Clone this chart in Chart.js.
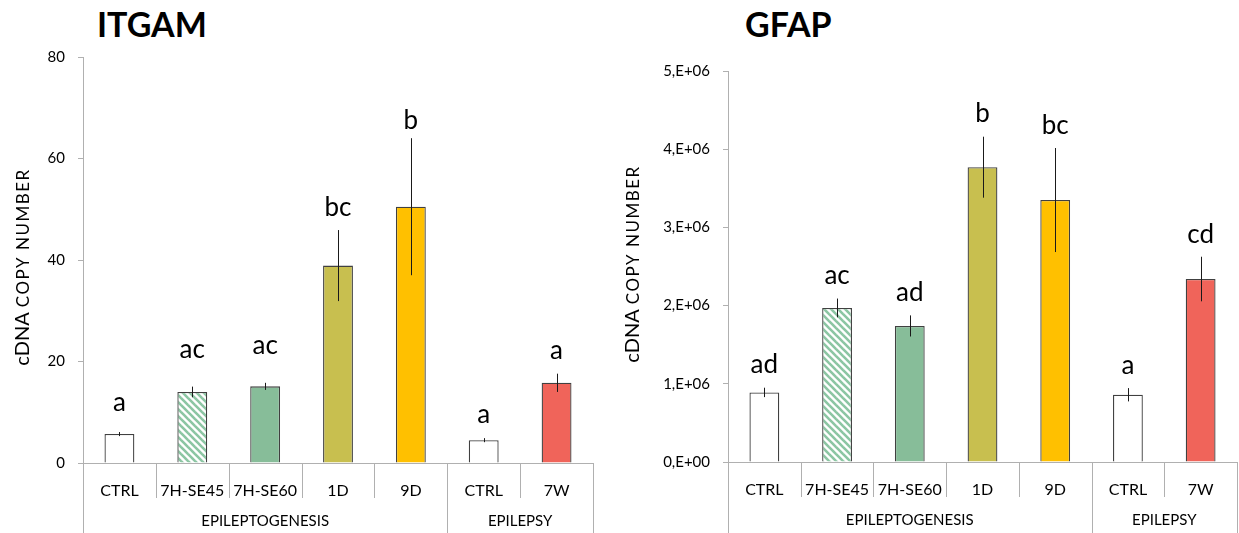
<!DOCTYPE html>
<html>
<head>
<meta charset="utf-8">
<script src="https://cdn.jsdelivr.net/npm/chart.js@4.4.1/dist/chart.umd.min.js"></script>
<style>
body { margin: 0; background: #fff; width: 1239px; height: 533px; overflow: hidden; position: relative; }
.titulo { position: absolute; top: 7px; font: bold 34px Lato, sans-serif; line-height: 34px; color: #000; }
.caja { position: absolute; top: 0; height: 533px; }
</style>
</head>
<body>
<div class="titulo" style="left:97px">ITGAM</div>
<div class="titulo" style="left:745px">GFAP</div>
<div class="caja" style="left:0; width:610px"><canvas id="graficaITGAM"></canvas></div>
<div class="caja" style="left:620px; width:619px"><canvas id="graficaGFAP"></canvas></div>
<script>
//DATOS
//Categorias del eje X y grupos que las contienen
const categorias = ['CTRL', '7H-SE45', '7H-SE60', '1D', '9D', 'CTRL', '7W'];
const grupos = ['EPILEPTOGENESIS', 'EPILEPSY'];
const tamGrupos = [5, 2];

//ITGAM: media, error y letras de significancia
const itgamMedia = [5.7, 14.0, 15.1, 38.9, 50.5, 4.5, 15.8];
const itgamError = [0.4, 1.05, 0.7, 7.0, 13.5, 0.4, 1.8];
const itgamLetras = ['a', 'ac', 'ac', 'bc', 'b', 'a', 'a'];
const itgamLetraY = [11.9, 22.3, 23.1, 50.3, 67.5, 9.6, 22.1];
const itgamTicks = ['0', '20', '40', '60', '80'];

//GFAP: media, error y letras de significancia
const gfapMedia = [890000, 1970000, 1740000, 3770000, 3350000, 860000, 2340000];
const gfapError = [60000, 120000, 135000, 390000, 665000, 85000, 285000];
const gfapLetras = ['ad', 'ac', 'ad', 'b', 'bc', 'a', 'cd'];
const gfapLetraY = [1240000, 2380000, 2170000, 4460000, 4300000, 1230000, 2910000];
const gfapTicks = ['0,E+00', '1,E+06', '2,E+06', '3,E+06', '4,E+06', '5,E+06'];

//ESTILO
const fuente = 'Lato, sans-serif';
const gris = '#b0b0b0';

//Se crea el patron rayado para la barra 7H-SE45
function crearRayado() {
	let c = document.createElement('canvas');
	c.width = 7;
	c.height = 7;
	let g = c.getContext('2d');
	g.fillStyle = '#ffffff';
	g.fillRect(0, 0, 7, 7);
	g.strokeStyle = '#8cc6a3';
	g.lineWidth = 2.6;
	for (let k = -7; k <= 7; k += 7) {
		g.beginPath();
		g.moveTo(-1, k - 1);
		g.lineTo(8, k + 8);
		g.stroke();
	}
	return g.createPattern(c, 'repeat');
}

const colores = ['#ffffff', crearRayado(), '#87bd99', '#c8bf4f', '#ffc000', '#ffffff', '#f0645a'];

//Barras de error (linea vertical sin tope)
function pluginErrores(error) {
	return {
		id: 'errores',
		afterDatasetsDraw(chart) {
			let ctx = chart.ctx;
			let y = chart.scales.y;
			let meta = chart.getDatasetMeta(0);
			let media = chart.data.datasets[0].data;
			ctx.save();
			ctx.strokeStyle = '#1a1a1a';
			ctx.lineWidth = 1;
			meta.data.forEach(function (barra, i) {
				let x = Math.round(barra.x) + 0.5;
				ctx.beginPath();
				ctx.moveTo(x, y.getPixelForValue(media[i] + error[i]));
				ctx.lineTo(x, y.getPixelForValue(media[i] - error[i]));
				ctx.stroke();
			});
			ctx.restore();
		}
	};
}

//Letras encima de cada barra
function pluginLetras(letras, letraY) {
	return {
		id: 'letras',
		afterDatasetsDraw(chart) {
			let ctx = chart.ctx;
			let y = chart.scales.y;
			let meta = chart.getDatasetMeta(0);
			ctx.save();
			ctx.fillStyle = '#000';
			ctx.font = '26px ' + fuente;
			ctx.textAlign = 'center';
			ctx.textBaseline = 'middle';
			meta.data.forEach(function (barra, i) {
				ctx.fillText(letras[i], barra.x, y.getPixelForValue(letraY[i]));
			});
			ctx.restore();
		}
	};
}

//Separadores y nombres de los grupos debajo del eje X
const pluginGrupos = {
	id: 'grupos',
	afterDraw(chart) {
		let ctx = chart.ctx;
		let x = chart.scales.x;
		let abajo = chart.chartArea.bottom;
		let alto = chart.height;
		let medio = (x.getPixelForValue(1) - x.getPixelForValue(0)) / 2;
		let n = categorias.length;
		//limites de grupo
		let limites = [0];
		let acum = 0;
		tamGrupos.forEach(function (t) { acum += t; limites.push(acum); });

		ctx.save();
		ctx.strokeStyle = gris;
		ctx.lineWidth = 1;
		for (let b = 0; b <= n; b++) {
			let px = Math.round(x.getPixelForValue(b) - medio) + 0.5;
			let largo = limites.includes(b) ? alto : abajo + 35;
			ctx.beginPath();
			ctx.moveTo(px, abajo);
			ctx.lineTo(px, largo);
			ctx.stroke();
		}
		ctx.fillStyle = '#000';
		ctx.font = '15px ' + fuente;
		ctx.textAlign = 'center';
		ctx.textBaseline = 'middle';
		grupos.forEach(function (nombre, g) {
			let a = x.getPixelForValue(limites[g]) - medio;
			let z = x.getPixelForValue(limites[g + 1]) - medio;
			ctx.fillText(nombre, (a + z) / 2, abajo + 58);
		});
		ctx.restore();
	}
};

//Titulo del eje Y con dos tamaños de letra
function pluginTituloY(cx, cy) {
	return {
		id: 'tituloY',
		afterDraw(chart) {
			let ctx = chart.ctx;
			ctx.save();
			ctx.translate(cx, cy);
			ctx.rotate(-Math.PI / 2);
			ctx.fillStyle = '#000';
			ctx.textBaseline = 'alphabetic';
			ctx.textAlign = 'left';
			ctx.font = '20px ' + fuente;
			let w1 = ctx.measureText('cDNA ').width;
			ctx.font = '17px ' + fuente;
			ctx.letterSpacing = '1.5px';
			let w2 = ctx.measureText('COPY NUMBER').width;
			let inicio = -(w1 + w2) / 2;
			ctx.fillText('COPY NUMBER', inicio + w1, 7);
			ctx.letterSpacing = '0px';
			ctx.font = '20px ' + fuente;
			ctx.fillText('cDNA', inicio, 7);
			ctx.restore();
		}
	};
}

//Se crea cada grafica
function crearGrafica(id, media, error, letras, letraY, maxY, paso, ticksY, caja) {
	const ctx = document.getElementById(id);
	return new Chart(ctx, {
		type: 'bar',
		data: {
			labels: categorias,
			datasets: [{
				data: media,
				backgroundColor: colores,
				borderColor: '#404040',
				borderWidth: 1.3,
				barPercentage: 0.41,
				categoryPercentage: 1
			}]
		},
		options: {
			responsive: true,
			maintainAspectRatio: false,
			animation: false,
			layout: { padding: { top: caja.arriba, right: caja.derecha, left: 0, bottom: 0 } },
			plugins: { legend: { display: false }, tooltip: { enabled: false } },
			scales: {
				x: {
					grid: { display: false },
					border: { color: gris },
					ticks: { color: '#000', font: { family: fuente, size: 16 }, padding: 10, autoSkip: false, maxRotation: 0 },
					afterFit: function (s) { s.height = caja.altoX; }
				},
				y: {
					min: 0,
					max: maxY,
					ticks: {
						stepSize: paso,
						color: '#000',
						font: { family: fuente, size: 15 },
						padding: 13,
						callback: function (v, i) { return ticksY[i]; }
					},
					grid: { drawOnChartArea: false, tickLength: 5, color: gris },
					border: { color: gris },
					afterFit: function (s) { s.width = caja.anchoY; }
				}
			}
		},
		plugins: [pluginErrores(error), pluginLetras(letras, letraY), pluginGrupos, pluginTituloY(caja.tx, caja.ty)]
	});
}

let graficaITGAM = crearGrafica('graficaITGAM', itgamMedia, itgamError, itgamLetras, itgamLetraY, 80, 20, itgamTicks,
	{ arriba: 57, derecha: 17, altoX: 70, anchoY: 83, tx: 22, ty: 267 });

let graficaGFAP = crearGrafica('graficaGFAP', gfapMedia, gfapError, gfapLetras, gfapLetraY, 5000000, 1000000, gfapTicks,
	{ arriba: 71, derecha: 2, altoX: 71, anchoY: 108, tx: 12, ty: 264 });
</script>
</body>
</html>
